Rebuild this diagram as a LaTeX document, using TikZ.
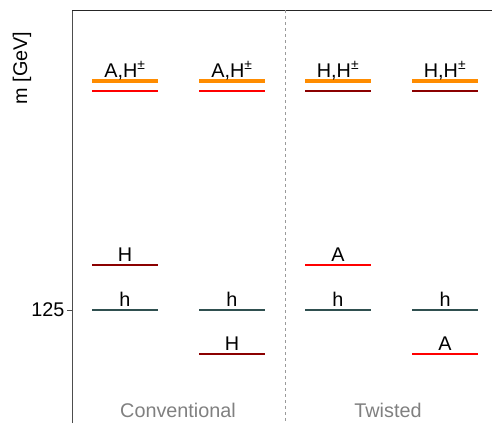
\documentclass[tikz,border=0pt]{standalone}
\usepackage{fontspec}
\setmainfont{Liberation Sans}
\usetikzlibrary{positioning}
\definecolor{lvlorange}{RGB}{255, 140, 0}
\definecolor{lvlred}{RGB}{255, 0, 0}
\definecolor{lvldarkred}{RGB}{139, 0, 0}
\definecolor{lvlslate}{RGB}{47, 79, 79}
\definecolor{axisgray}{RGB}{77, 77, 77}
\definecolor{txtgray}{RGB}{128, 128, 128}

\begin{document}
\begin{tikzpicture}[
      x=1pt, y=-1pt,
      font=\fontsize{19.8}{23}\selectfont,
      level/.style={line width=1.8pt},
      heavy/.style={line width=3.8pt, lvlorange},
      lab/.style={anchor=base, inner sep=0pt, text=black},
      panel/.style={anchor=base, inner sep=0pt, text=txtgray}
    ]
      \useasboundingbox (0,0) rectangle (492,423);

      % frame and divider
      \coordinate (frame_tl) at (72,10);
      \coordinate (frame_bl) at (72,423);
      \coordinate (frame_tr) at (492,10);
      \coordinate (div_t) at (285,10);
      \coordinate (div_b) at (285,423);
      \draw[axisgray, line width=1pt] (frame_bl) -- (frame_tl);
      \draw[black!85, line width=0.8pt] (frame_tl) -- (frame_tr);
      \draw[txtgray!80, dashed, line width=0.8pt] (div_t) -- (div_b);

      % axis label and tick
      \node[rotate=90, inner sep=0pt] (ylab) at (22,68) {m [GeV]};
      \coordinate (tick_a) at (67,310);
      \coordinate (tick_b) at (72,310);
      \draw[axisgray, line width=1pt] (tick_a) -- (tick_b);
      \node[anchor=east, inner sep=0pt] (tick125) at (64.5,310) {125};

      % Conventional, column 1
      \draw[heavy] (92,81) -- (158,81);
      \draw[level, lvlred] (92,91) -- (158,91);
      \node[lab] (c1_heavy) at (125,77) {A,H\textsuperscript{±}};
      \draw[level, lvldarkred] (92,265) -- (158,265);
      \node[lab] (c1_H) at (125,261.5) {H};
      \draw[level, lvlslate] (92,310) -- (158,310);
      \node[lab] (c1_h) at (125,306.5) {h};

      % Conventional, column 2
      \draw[heavy] (199,81) -- (265,81);
      \draw[level, lvlred] (199,91) -- (265,91);
      \node[lab] (c2_heavy) at (232,77) {A,H\textsuperscript{±}};
      \draw[level, lvlslate] (199,310) -- (265,310);
      \node[lab] (c2_h) at (232,306.5) {h};
      \draw[level, lvldarkred] (199,354) -- (265,354);
      \node[lab] (c2_H) at (232,350.5) {H};

      % Twisted, column 3
      \draw[heavy] (305,81) -- (371,81);
      \draw[level, lvldarkred] (305,91) -- (371,91);
      \node[lab] (t1_heavy) at (338,77) {H,H\textsuperscript{±}};
      \draw[level, lvlred] (305,265) -- (371,265);
      \node[lab] (t1_A) at (338,261.5) {A};
      \draw[level, lvlslate] (305,310) -- (371,310);
      \node[lab] (t1_h) at (338,306.5) {h};

      % Twisted, column 4
      \draw[heavy] (412,81) -- (478,81);
      \draw[level, lvldarkred] (412,91) -- (478,91);
      \node[lab] (t2_heavy) at (445,77) {H,H\textsuperscript{±}};
      \draw[level, lvlslate] (412,310) -- (478,310);
      \node[lab] (t2_h) at (445,306.5) {h};
      \draw[level, lvlred] (412,354) -- (478,354);
      \node[lab] (t2_A) at (445,350.5) {A};

      % panel titles
      \node[panel] (conv) at (178,417) {Conventional};
      \node[panel] (twist) at (388,417) {Twisted};
    \end{tikzpicture}
\end{document}
